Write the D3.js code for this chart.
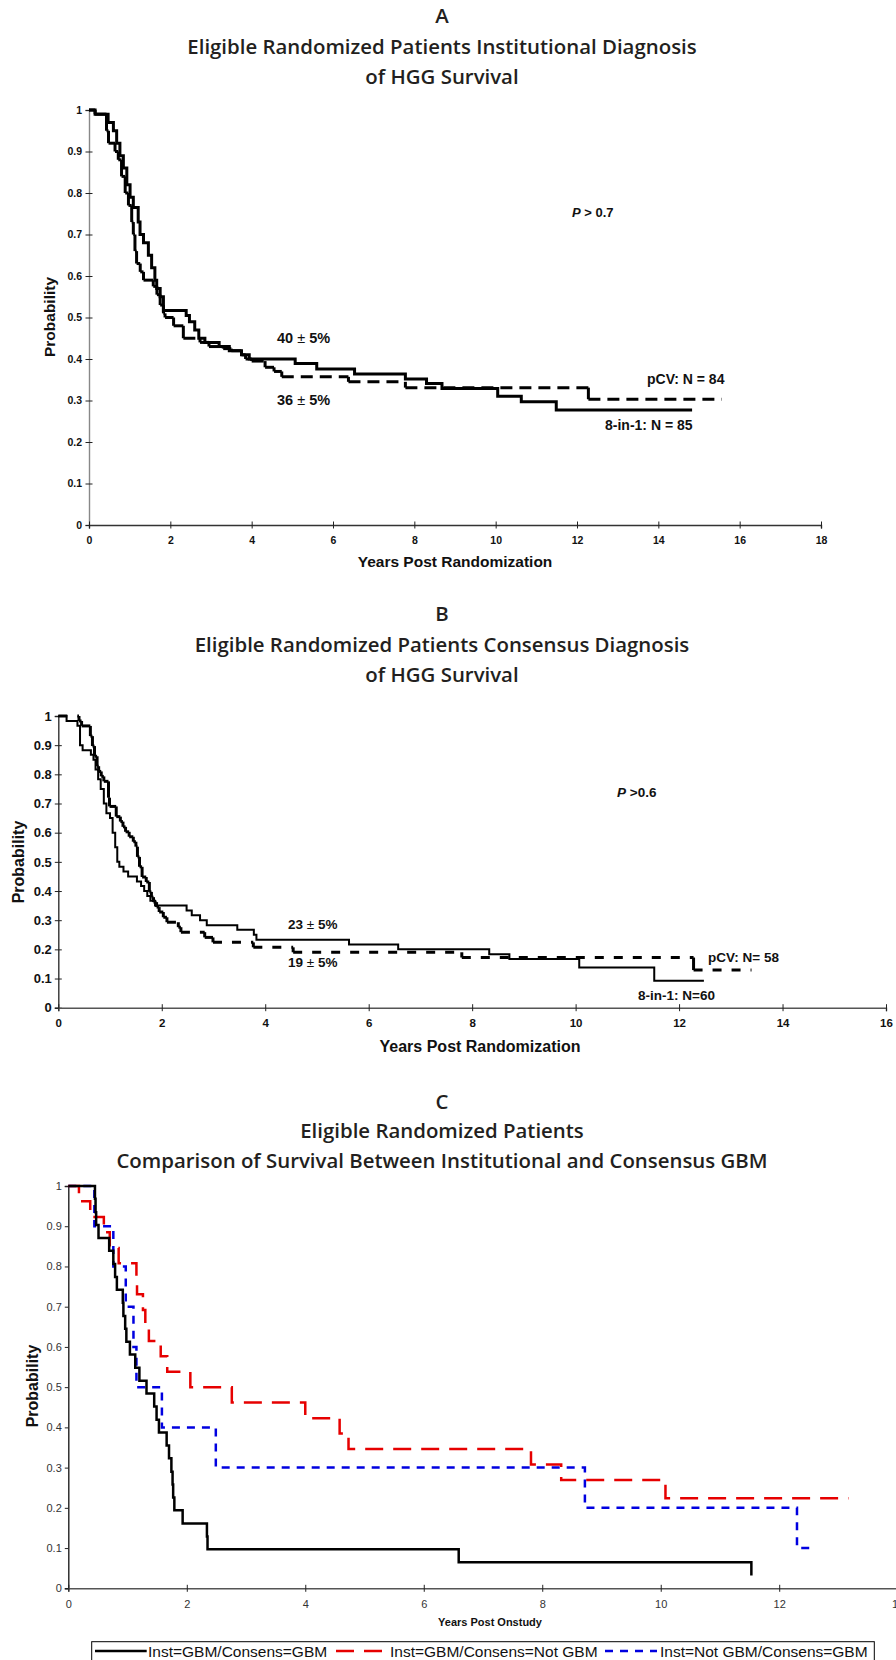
<!DOCTYPE html>
<html>
<head>
<meta charset="utf-8">
<script src="https://cdn.jsdelivr.net/npm/d3@7"></script>
<style>
  html, body { margin: 0; padding: 0; background: #fff; }
  svg { display: block; }
  .title { font-family: "Open Sans", sans-serif; font-weight: 600; fill: #231f20; }
  .lbl { font-family: "Liberation Sans", Arial, sans-serif; fill: #111; }
</style>
</head>
<body>
<script>
// ---- Panel A: institutional diagnosis ----
const aXTicks = [0, 2, 4, 6, 8, 10, 12, 14, 16, 18];
const aYTicks = [0, 0.1, 0.2, 0.3, 0.4, 0.5, 0.6, 0.7, 0.8, 0.9, 1];
const a8in1Years = [0, 0.15, 0.47, 0.6, 0.68, 0.76, 0.845, 0.93, 1.01, 1.09, 1.21, 1.255, 1.34, 1.46, 1.54, 1.62, 1.665, 1.75, 1.83, 2.39, 2.47, 2.6, 2.7, 2.85, 3.2, 3.45, 3.75, 3.94, 5.07, 5.6, 6.53, 7.78, 8.3, 8.68, 10.05, 10.63, 11.49, 14.83];
const a8in1Surv = [1, 0.99, 0.97, 0.95, 0.92, 0.89, 0.86, 0.82, 0.79, 0.765, 0.73, 0.70, 0.68, 0.65, 0.62, 0.59, 0.57, 0.55, 0.517, 0.505, 0.49, 0.47, 0.45, 0.44, 0.43, 0.42, 0.41, 0.40, 0.389, 0.376, 0.364, 0.352, 0.341, 0.329, 0.31, 0.297, 0.277, 0.277];
const aPcvYears = [0, 0.15, 0.43, 0.48, 0.64, 0.72, 0.8, 0.89, 0.97, 1.05, 1.09, 1.13, 1.17, 1.26, 1.34, 1.58, 1.67, 1.75, 1.83, 1.87, 2.08, 2.32, 2.73, 2.95, 3.3, 3.5, 3.75, 3.85, 4.0, 4.33, 4.55, 4.74, 6.38, 7.78, 12.28, 15.56];
const aPcvSurv = [1, 0.99, 0.95, 0.92, 0.90, 0.88, 0.84, 0.80, 0.77, 0.73, 0.70, 0.66, 0.63, 0.61, 0.59, 0.575, 0.555, 0.53, 0.51, 0.50, 0.48, 0.45, 0.44, 0.43, 0.425, 0.42, 0.41, 0.40, 0.395, 0.38, 0.37, 0.357, 0.345, 0.331, 0.303, 0.303];

// ---- Panel B: consensus diagnosis ----
const bXTicks = [0, 2, 4, 6, 8, 10, 12, 14, 16];
const bYTicks = [0, 0.1, 0.2, 0.3, 0.4, 0.5, 0.6, 0.7, 0.8, 0.9, 1];
const b8in1Years = [0, 0.16, 0.37, 0.42, 0.47, 0.63, 0.68, 0.72, 0.77, 0.82, 0.88, 0.93, 1.0, 1.05, 1.1, 1.14, 1.18, 1.26, 1.35, 1.52, 1.6, 1.66, 1.72, 1.78, 1.87, 2.48, 2.58, 2.74, 2.87, 3.46, 3.78, 3.83, 5.62, 6.57, 8.33, 8.72, 10.07, 11.52, 12.48];
const b8in1Surv = [1, 0.983, 0.967, 0.90, 0.883, 0.867, 0.85, 0.817, 0.783, 0.75, 0.70, 0.667, 0.65, 0.60, 0.55, 0.50, 0.483, 0.467, 0.45, 0.433, 0.417, 0.40, 0.383, 0.367, 0.35, 0.333, 0.317, 0.30, 0.283, 0.267, 0.25, 0.233, 0.217, 0.20, 0.183, 0.167, 0.138, 0.092, 0.092];
const bPcvYears = [0, 0.40, 0.45, 0.62, 0.66, 0.7, 0.75, 0.78, 0.83, 0.88, 0.97, 0.99, 1.12, 1.2, 1.25, 1.3, 1.37, 1.45, 1.5, 1.53, 1.57, 1.62, 1.7, 1.76, 1.8, 1.84, 1.9, 1.95, 2.03, 2.1, 2.32, 2.37, 2.83, 2.99, 3.77, 4.54, 7.8, 12.28, 13.4];
const bPcvSurv = [1, 0.983, 0.966, 0.931, 0.897, 0.862, 0.828, 0.81, 0.793, 0.776, 0.72, 0.69, 0.655, 0.638, 0.62, 0.603, 0.586, 0.569, 0.552, 0.517, 0.483, 0.448, 0.431, 0.397, 0.379, 0.362, 0.345, 0.328, 0.31, 0.293, 0.276, 0.259, 0.241, 0.224, 0.207, 0.19, 0.172, 0.129, 0.129];

// ---- Panel C: institutional vs consensus GBM ----
const cXTicks = [0, 2, 4, 6, 8, 10, 12, 14];
const cYTicks = [0, 0.1, 0.2, 0.3, 0.4, 0.5, 0.6, 0.7, 0.8, 0.9, 1];
const cGbmGbmYears = [0, 0.45, 0.46, 0.47, 0.51, 0.69, 0.76, 0.79, 0.82, 0.92, 0.93, 0.96, 0.98, 1.04, 1.13, 1.2, 1.32, 1.45, 1.49, 1.53, 1.66, 1.70, 1.74, 1.76, 1.77, 1.79, 1.93, 2.34, 2.35, 6.59, 11.53];
const cGbmGbmSurv = [1, 0.968, 0.935, 0.903, 0.871, 0.839, 0.806, 0.774, 0.742, 0.71, 0.677, 0.645, 0.613, 0.581, 0.548, 0.516, 0.484, 0.452, 0.419, 0.387, 0.355, 0.323, 0.29, 0.258, 0.226, 0.194, 0.161, 0.129, 0.097, 0.065, 0.032];
const cGbmNotYears = [0, 0.18, 0.37, 0.6, 0.70, 0.85, 1.15, 1.16, 1.26, 1.30, 1.36, 1.56, 1.67, 2.06, 2.76, 4.0, 4.58, 4.73, 7.81, 8.32, 10.08, 13.17];
const cGbmNotSurv = [1, 0.962, 0.923, 0.885, 0.846, 0.808, 0.769, 0.731, 0.692, 0.654, 0.615, 0.577, 0.538, 0.50, 0.462, 0.423, 0.385, 0.346, 0.308, 0.269, 0.224, 0.224];
const cNotGbmYears = [0, 0.44, 0.76, 0.97, 1.10, 1.15, 1.58, 2.49, 8.72, 12.3, 12.61];
const cNotGbmSurv = [1, 0.9, 0.8, 0.7, 0.6, 0.5, 0.4, 0.3, 0.2, 0.1, 0.1];
const cLegend = ['Inst=GBM/Consens=GBM', 'Inst=GBM/Consens=Not GBM', 'Inst=Not GBM/Consens=GBM'];

const width = 896;
const height = 1660;
const svg = d3.select('body').append('svg').attr('width', width).attr('height', height);

const zip = (xs, ys) => xs.map((t, i) => [t, ys[i]]);

function title(lines, ys) {
    lines.forEach((t, i) => {
        svg.append('text').attr('class', 'title')
            .attr('x', 442).attr('y', ys[i])
            .attr('text-anchor', 'middle')
            .attr('font-size', 20.4)
            .text(t);
    });
}

// axes with ticks that cross the axis line
function axes(x, y, o) {
    const gy = svg.append('g')
        .attr('transform', `translate(${x.range()[0]},0)`)
        .call(d3.axisLeft(y).tickValues(o.yTicks).tickSize(o.tick).tickPadding(o.yPad).tickFormat(String));
    const gx = svg.append('g')
        .attr('transform', `translate(0,${y.range()[0]})`)
        .call(d3.axisBottom(x).tickValues(o.xTicks).tickSize(o.tick).tickPadding(o.xPad).tickFormat(String));
    gy.select('.domain').attr('stroke', o.yColor).attr('stroke-width', 1.4);
    gx.select('.domain').attr('stroke', o.xColor).attr('stroke-width', 1.4);
    if (o.yCross) gy.selectAll('.tick line').attr('x1', o.tick);
    gx.selectAll('.tick line').attr('y1', -o.tick);
    [gx, gy].forEach(g => {
        g.selectAll('.tick line').attr('stroke', '#222').attr('stroke-width', 1);
        g.selectAll('text')
            .attr('font-family', '"Liberation Sans", Arial, sans-serif')
            .attr('font-weight', o.bold ? 'bold' : 'normal')
            .attr('fill', o.bold ? '#111' : '#333');
    });
    gy.selectAll('text').attr('font-size', o.ySize);
    gx.selectAll('text').attr('font-size', o.xSize);
}

function axisTitles(xText, xPos, yPos, size, xSize) {
    svg.append('text').attr('class', 'lbl')
        .attr('x', xPos[0]).attr('y', xPos[1])
        .attr('text-anchor', 'middle').attr('font-weight', 'bold')
        .attr('font-size', xSize).text(xText);
    svg.append('text').attr('class', 'lbl')
        .attr('transform', `translate(${yPos[0]},${yPos[1]}) rotate(-90)`)
        .attr('text-anchor', 'middle').attr('dy', '0.35em').attr('font-weight', 'bold')
        .attr('font-size', size).text('Probability');
}

// step curve; dashed series get dashed horizontals and solid drops (as in the original)
function kmSegmented(x, y, pts, w, dash) {
    const g = svg.append('g').attr('fill', 'none').attr('stroke', '#000').attr('stroke-width', w);
    const line = d3.line().x(d => x(d[0])).y(d => y(d[1]));
    for (let i = 0; i < pts.length - 1; i++) {
        const [t0, p0] = pts[i];
        const [t1, p1] = pts[i + 1];
        g.append('path').attr('d', line([[t0, p0], [t1, p0]])).attr('stroke-dasharray', dash);
        if (p1 !== p0) g.append('path').attr('d', line([[t1, p0], [t1, p1]]));
    }
}

function km(x, y, pts, w, color, dash) {
    svg.append('path')
        .attr('d', d3.line().x(d => x(d[0])).y(d => y(d[1])).curve(d3.curveStepAfter)(pts))
        .attr('fill', 'none').attr('stroke', color).attr('stroke-width', w)
        .attr('stroke-dasharray', dash);
}

function note(x, y, size, parts) {
    const t = svg.append('text').attr('class', 'lbl').attr('x', x).attr('y', y)
        .attr('font-size', size).attr('font-weight', 'bold');
    parts.forEach(p => {
        const s = t.append('tspan').text(p.text);
        if (p.italic) s.attr('font-style', 'italic');
        if (p.normal) s.attr('font-weight', 'normal');
    });
}

// ---------- A ----------
title(['A', 'Eligible Randomized Patients Institutional Diagnosis', 'of HGG Survival'], [23, 54, 84]);
const xA = d3.scaleLinear().domain([0, 18]).range([89, 821]);
const yA = d3.scaleLinear().domain([0, 1]).range([525, 110]);
axes(xA, yA, {xTicks: aXTicks, yTicks: aYTicks, tick: 3.5, yPad: 3.5, xPad: 8, yCross: true,
    yColor: '#888', xColor: '#333', bold: true, ySize: 10.5, xSize: 10.5});
axisTitles('Years Post Randomization', [455, 567], [50, 317], 15.5, 15.5);
kmSegmented(xA, yA, zip(aPcvYears, aPcvSurv), 3, '12,7');
km(xA, yA, zip(a8in1Years, a8in1Surv), 3, '#000', null);
note(572, 217, 13, [{text: 'P', italic: true}, {text: ' > 0.7'}]);
note(277, 343, 14.5, [{text: '40 '}, {text: '±', normal: true}, {text: ' 5%'}]);
note(277, 405, 14.5, [{text: '36 '}, {text: '±', normal: true}, {text: ' 5%'}]);
note(647, 384, 14, [{text: 'pCV: N = 84'}]);
note(605, 430, 14, [{text: '8-in-1: N = 85'}]);

// ---------- B ----------
title(['B', 'Eligible Randomized Patients Consensus Diagnosis', 'of HGG Survival'], [621, 652, 682]);
const xB = d3.scaleLinear().domain([0, 16]).range([58.3, 886]);
const yB = d3.scaleLinear().domain([0, 1]).range([1007.7, 716]);
axes(xB, yB, {xTicks: bXTicks, yTicks: bYTicks, tick: 3.5, yPad: 3, xPad: 8, yCross: true,
    yColor: '#333', xColor: '#555', bold: true, ySize: 13, xSize: 11.5});
axisTitles('Years Post Randomization', [480, 1052], [18, 862], 16, 16);
kmSegmented(xB, yB, zip(bPcvYears, bPcvSurv), 3, '9,10');
km(xB, yB, zip(b8in1Years, b8in1Surv), 2, '#000', null);
note(617, 797, 13.5, [{text: 'P', italic: true}, {text: ' >0.6'}]);
note(288, 929, 13.5, [{text: '23 '}, {text: '±', normal: true}, {text: ' 5%'}]);
note(288, 967, 13.5, [{text: '19 '}, {text: '±', normal: true}, {text: ' 5%'}]);
note(708, 962, 13.5, [{text: 'pCV: N= 58'}]);
note(638, 1000, 13.5, [{text: '8-in-1: N=60'}]);

// ---------- C ----------
title(['C', 'Eligible Randomized Patients', 'Comparison of Survival Between Institutional and Consensus GBM'], [1109, 1138, 1168]);
const xC = d3.scaleLinear().domain([0, 14]).range([68.3, 897.7]);
const yC = d3.scaleLinear().domain([0, 1]).range([1588.3, 1186]);
axes(xC, yC, {xTicks: cXTicks, yTicks: cYTicks, tick: 3.5, yPad: 3, xPad: 8, yCross: false,
    yColor: '#222', xColor: '#555', bold: false, ySize: 11, xSize: 11});
axisTitles('Years Post Onstudy', [490, 1626], [32, 1386], 16, 11);

const cColors = ['#000', '#e60000', '#0000e0'];
const cDash = [null, '18,10', '8,7'];
km(xC, yC, zip(cNotGbmYears, cNotGbmSurv), 2.5, cColors[2], cDash[2]);
km(xC, yC, zip(cGbmNotYears, cGbmNotSurv), 2.5, cColors[1], cDash[1]);
km(xC, yC, zip(cGbmGbmYears, cGbmGbmSurv), 2.5, cColors[0], cDash[0]);

// legend box, clipped by the bottom edge as in the original
const legend = svg.append('g');
legend.append('rect').attr('x', 91.7).attr('y', 1641.7).attr('width', 782.6).attr('height', 30)
    .attr('fill', '#fff').attr('stroke', '#000').attr('stroke-width', 1);
const legendItems = [[95, 146.7, 148], [336, 386, 390], [605, 657, 660]];
cLegend.forEach((name, i) => {
    const [l0, l1, tx] = legendItems[i];
    legend.append('line').attr('x1', l0).attr('x2', l1).attr('y1', 1651).attr('y2', 1651)
        .attr('stroke', cColors[i]).attr('stroke-width', 2.5).attr('stroke-dasharray', cDash[i]);
    legend.append('text').attr('class', 'lbl').attr('x', tx).attr('y', 1657)
        .attr('font-size', 15.5).text(name);
});
</script>
</body>
</html>
